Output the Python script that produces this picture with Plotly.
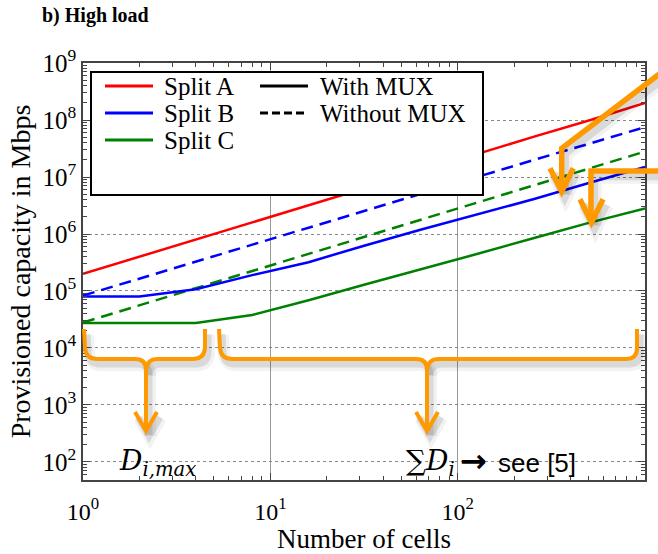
import plotly.graph_objects as go

# Number of cells on the x axis
cells = [1, 2, 4, 8, 16, 32, 64, 128, 256, 512, 1000]

# Provisioned capacity in Mbps
split_a_mux = [2.0e5, 4.0e5, 8.0e5, 1.6e6, 3.2e6, 6.4e6, 1.3e7, 2.6e7, 5.1e7, 1.0e8, 2.0e8]
split_b_mux = [8.0e4, 8.0e4, 1.07e5, 1.9e5, 3.2e5, 6.3e5, 1.2e6, 2.2e6, 4.1e6, 8.0e6, 1.5e7]
split_b_nomux = [8.3e4, 1.65e5, 3.3e5, 6.5e5, 1.3e6, 2.6e6, 5.1e6, 1.0e7, 2.0e7, 3.9e7, 7.5e7]
split_c_mux = [2.75e4, 2.75e4, 2.75e4, 3.8e4, 6.9e4, 1.3e5, 2.4e5, 4.5e5, 8.5e5, 1.6e6, 2.8e6]
split_c_nomux = [2.8e4, 5.6e4, 1.1e5, 2.2e5, 4.5e5, 9.0e5, 1.8e6, 3.6e6, 7.2e6, 1.4e7, 2.8e7]

x_ticks = [1, 10, 100, 1000]
x_tick_text = ["10<sup>0</sup>", "10<sup>1</sup>", "10<sup>2</sup>", "10<sup>3</sup>"]
y_ticks = [1e2, 1e3, 1e4, 1e5, 1e6, 1e7, 1e8, 1e9]
y_tick_text = ["10<sup>%d</sup>" % k for k in range(2, 10)]

legend_split = ["Split A", "Split B", "Split C"]
legend_mux = ["With MUX", "Without MUX"]

RED, BLUE, GREEN, ORANGE = "#ff0000", "#0000ff", "#008000", "#ff9900"
SERIF = "Liberation Serif"
AXIS = "#444444"

W, H = 658, 554
L, R, T, B = 83, 645, 63, 480   # plot area in pixels


def fx(px):
    return (px - L) / (R - L)


def fy(py):
    return (B - py) / (B - T)


def svg_path(cmds, dx=0, dy=0):
    out = []
    for c in cmds:
        op, pts = c[0], c[1:]
        out.append(op + " " + " ".join("%.5f,%.5f" % (fx(x + dx), fy(y + dy)) for x, y in pts))
    return " ".join(out)


minor_vals = [m * 10 ** e for e in range(0, 10) for m in range(2, 10)]

fig = go.Figure()

series = [
    ("Split A, with MUX", split_a_mux, RED, "solid"),
    ("Split B, without MUX", split_b_nomux, BLUE, "12px,7px"),
    ("Split C, without MUX", split_c_nomux, GREEN, "12px,7px"),
    ("Split B, with MUX", split_b_mux, BLUE, "solid"),
    ("Split C, with MUX", split_c_mux, GREEN, "solid"),
]
for name, vals, color, dash in series:
    fig.add_trace(go.Scatter(x=cells, y=vals, mode="lines", name=name, showlegend=False,
                             line=dict(color=color, width=2.5, dash=dash)))

shapes = []
annotations = []

# orange braces and arrows with a soft drop shadow
brace_left = [
    [("M", (84, 329)), ("L", (85, 348)), ("Q", (86, 359), (97, 359)), ("L", (135, 359)),
     ("Q", (146, 359), (146, 370)), ("L", (146, 430))],
    [("M", (146, 370)), ("Q", (147, 359), (158, 359)), ("L", (193, 359)),
     ("Q", (204, 359), (205, 348)), ("L", (205, 329))],
    [("M", (135, 412)), ("L", (146, 431)), ("L", (157, 412))],
]
brace_right = [
    [("M", (219, 329)), ("L", (220, 348)), ("Q", (221, 359), (232, 359)), ("L", (416, 359)),
     ("Q", (427, 359), (427, 370)), ("L", (427, 430))],
    [("M", (427, 370)), ("Q", (428, 359), (439, 359)), ("L", (626, 359)),
     ("Q", (637, 359), (637, 348)), ("L", (637, 329))],
    [("M", (416, 412)), ("L", (427, 431)), ("L", (438, 412))],
]
pointer_one = [
    [("M", (690, 50.7)), ("L", (561.7, 148.3)), ("L", (561.7, 189))],
    [("M", (550, 168.3)), ("L", (561.7, 191.5)), ("L", (573.3, 168.3))],
]
pointer_two = [
    [("M", (690, 171)), ("L", (591, 171)), ("L", (591, 220))],
    [("M", (580, 199.3)), ("L", (591.5, 222.5)), ("L", (603, 199.3))],
]

groups = [(brace_left, 4), (brace_right, 4), (pointer_one, 5.5), (pointer_two, 5.5)]
for group, width in groups:
    for cmds in group:
        for sw, sa, off in [(width + 8, 0.05, (4, 6)), (width + 3, 0.10, (3, 5))]:
            shapes.append(dict(type="path", xref="paper", yref="paper", layer="above",
                               path=svg_path(cmds, *off),
                               line=dict(color="rgba(0,0,0,%.2f)" % sa, width=sw)))
for group, width in groups:
    for cmds in group:
        shapes.append(dict(type="path", xref="paper", yref="paper", layer="above",
                           path=svg_path(cmds),
                           line=dict(color=ORANGE, width=width)))

# legend frame
shapes.append(dict(type="rect", xref="paper", yref="paper", layer="above",
                   x0=fx(91), x1=fx(483), y0=fy(195), y1=fy(72),
                   line=dict(color="black", width=2), fillcolor="white"))
for label, color, yy in zip(legend_split, [RED, BLUE, GREEN], [86, 113, 140]):
    shapes.append(dict(type="line", xref="paper", yref="paper", layer="above",
                       x0=fx(105), x1=fx(153), y0=fy(yy), y1=fy(yy),
                       line=dict(color=color, width=3)))
    annotations.append(dict(text=label, xref="paper", yref="paper", x=fx(162), y=fy(yy),
                            xanchor="left", yanchor="middle", showarrow=False,
                            font=dict(family=SERIF, size=25, color="black")))
for label, dash, yy in zip(legend_mux, ["solid", "8px,4px"], [86, 113]):
    shapes.append(dict(type="line", xref="paper", yref="paper", layer="above",
                       x0=fx(260), x1=fx(308), y0=fy(yy), y1=fy(yy),
                       line=dict(color="black", width=3, dash=dash)))
    annotations.append(dict(text=label, xref="paper", yref="paper", x=fx(318), y=fy(yy),
                            xanchor="left", yanchor="middle", showarrow=False,
                            font=dict(family=SERIF, size=25, color="black")))

# brace labels
annotations.append(dict(text="<i>D</i><sub><i>i,max</i></sub>", xref="paper", yref="paper",
                        x=fx(117), y=fy(462), xanchor="left", yanchor="middle", showarrow=False,
                        font=dict(family="DejaVu Serif", size=28, color="black")))
annotations.append(dict(text="∑<i>D</i><sub><i>i</i></sub>", xref="paper", yref="paper",
                        x=fx(404), y=fy(462), xanchor="left", yanchor="middle", showarrow=False,
                        font=dict(family="DejaVu Serif", size=28, color="black")))
annotations.append(dict(text="<b>→</b>", xref="paper", yref="paper",
                        x=fx(458), y=fy(461), xanchor="left", yanchor="middle", showarrow=False,
                        font=dict(family="DejaVu Sans", size=32, color="black")))
annotations.append(dict(text="see [5]", xref="paper", yref="paper",
                        x=fx(496), y=fy(463), xanchor="left", yanchor="middle", showarrow=False,
                        font=dict(family="Liberation Sans", size=26, color="black")))

axis_common = dict(
    type="log", showline=True, linecolor=AXIS, linewidth=1.5, mirror="allticks",
    ticks="inside", ticklen=7, tickwidth=1, tickcolor=AXIS, tickmode="array",
    tickfont=dict(family=SERIF, size=25, color="black"),
    minor=dict(tickmode="array", tickvals=minor_vals, ticks="inside", ticklen=4,
               tickwidth=1, tickcolor=AXIS, showgrid=False),
    showgrid=True, gridwidth=1, zeroline=False, automargin=False,
)

fig.update_layout(
    width=W, height=H,
    margin=dict(l=L, r=W - R, t=T, b=H - B, autoexpand=False),
    paper_bgcolor="white", plot_bgcolor="white",
    showlegend=False,
    title=dict(text="<b>b) High load</b>", xref="container", yref="container",
               x=42 / W, y=1 - 15 / H, xanchor="left", yanchor="middle",
               font=dict(family=SERIF, size=20, color="black")),
    xaxis=dict(axis_common, range=[0, 3], tickvals=x_ticks, ticktext=x_tick_text,
               gridcolor="#999999", griddash="solid", ticklabelstandoff=9,
               tickfont=dict(family=SERIF, size=24, color="black"),
               title=dict(text="Number of cells", standoff=2,
                          font=dict(family=SERIF, size=27, color="black"))),
    yaxis=dict(axis_common, range=[1.684, 9], tickvals=y_ticks, ticktext=y_tick_text,
               gridcolor="#888888", griddash="dot",
               title=dict(text="Provisioned capacity in Mbps", standoff=4,
                          font=dict(family=SERIF, size=28, color="black"))),
    shapes=shapes,
    annotations=annotations,
)

fig.write_html("out.html")
